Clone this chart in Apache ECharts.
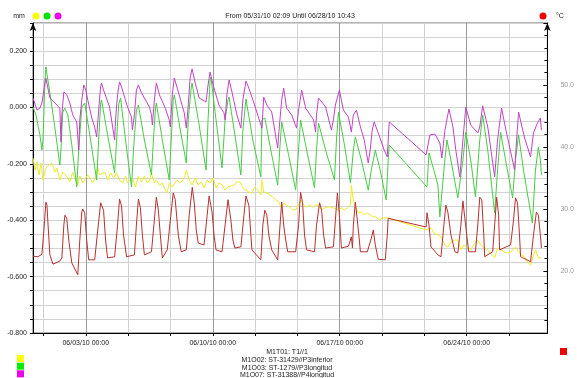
<!DOCTYPE html>
<html><head><meta charset="utf-8">
<script src="https://cdn.jsdelivr.net/npm/echarts@6/dist/echarts.min.js"></script>
<style>html,body{margin:0;padding:0;background:#fff}#c{width:577px;height:378px}</style>
</head><body><div id="c"></div>
<script>
// x values are days counted from 05/31/10 00:00
const xStartDay = 0.0896;   // 05/31/10 02:09
const xEndDay = 28.4465;    // 06/28/10 10:43
const xLabelDays = [3, 10, 17, 24];
const xLabelTexts = ['06/03/10 00:00', '06/10/10 00:00', '06/17/10 00:00', '06/24/10 00:00'];
const xGridDays = [0.667, 3, 5.333, 7.667, 10, 12.333, 14.667, 17, 19.333, 21.667, 24, 26.333];
const seriesNames = ['M1T01: T1//1', 'M1O02: ST-31429//P3inferior', 'M1O03: ST-1279//P3longitud', 'M1O07: ST-31388//P4longitud'];
const titleText = 'From 05/31/10 02:09 Until 06/28/10 10:43';

// M1T01 temperature (°C, right axis)
const redTemp = [[0.09,22.4],[0.36,22.3],[0.58,22.7],[0.69,26.6],[0.80,31.1],[0.86,30.6],[0.91,27.9],[1.02,22.6],[1.19,21.1],[1.57,21.6],[1.68,22.1],[1.79,27.4],[1.85,29.0],[1.95,28.5],[2.06,25.0],[2.23,21.3],[2.56,19.4],[2.67,25.0],[2.78,29.5],[2.83,30.0],[2.94,29.4],[3.05,25.0],[3.16,21.8],[3.49,21.8],[3.66,26.6],[3.82,31.0],[3.87,31.3],[3.98,29.8],[4.09,25.0],[4.20,22.1],[4.59,22.3],[4.75,27.4],[4.86,31.6],[4.97,30.5],[5.08,25.8],[5.25,22.3],[5.68,22.6],[5.79,27.4],[5.90,31.6],[6.01,30.2],[6.12,25.8],[6.23,22.6],[6.62,23.1],[6.78,28.2],[6.89,31.9],[7.00,29.8],[7.11,25.8],[7.22,22.1],[7.49,23.4],[7.66,28.2],[7.82,32.6],[7.93,31.5],[8.10,25.8],[8.26,23.1],[8.54,23.4],[8.70,29.0],[8.87,33.5],[8.98,31.0],[9.09,26.6],[9.20,24.5],[9.52,24.2],[9.69,29.0],[9.80,32.1],[9.96,29.5],[10.07,25.8],[10.18,23.4],[10.51,23.1],[10.68,27.4],[10.84,31.5],[11.00,28.2],[11.11,25.0],[11.22,23.7],[11.55,23.9],[11.72,29.0],[11.83,32.1],[11.99,30.6],[12.10,25.8],[12.16,23.4],[12.65,21.8],[12.76,27.4],[12.87,29.8],[12.98,29.0],[13.09,25.8],[13.25,23.4],[13.58,21.8],[13.69,26.6],[13.80,31.1],[13.91,27.4],[14.02,25.0],[14.13,23.1],[14.57,23.1],[14.73,27.4],[14.84,32.7],[14.95,31.0],[15.06,25.8],[15.17,23.4],[15.61,23.1],[15.72,27.4],[15.89,31.0],[16.00,29.8],[16.11,25.8],[16.22,23.7],[16.65,23.9],[16.76,28.2],[16.87,32.6],[16.98,29.0],[17.09,23.7],[17.48,24.0],[17.64,25.5],[17.70,23.7],[17.75,27.4],[17.86,31.1],[17.97,28.2],[18.08,25.0],[18.14,23.1],[18.52,23.1],[18.74,25.3],[18.85,26.6],[18.96,24.2],[19.12,21.9],[19.51,21.8],[19.62,25.8],[19.67,28.5],[21.76,27.1],[21.81,29.4],[21.92,27.4],[22.03,23.9],[22.41,22.6],[22.58,22.3],[22.74,27.4],[22.85,30.6],[22.96,29.5],[23.13,25.8],[23.35,23.1],[23.51,22.9],[23.68,27.4],[23.79,31.3],[23.89,31.0],[24.00,25.8],[24.11,23.1],[24.48,23.1],[24.61,27.4],[24.72,31.9],[24.83,31.5],[24.94,25.8],[24.99,22.3],[25.43,23.1],[25.54,27.4],[25.65,31.9],[25.76,29.0],[25.81,23.4],[26.03,23.7],[26.42,24.2],[26.58,28.2],[26.69,31.8],[26.80,31.0],[26.91,25.8],[26.97,22.3],[27.52,21.5],[27.68,25.8],[27.84,29.5],[27.95,29.0],[28.06,25.8],[28.12,23.7]];

// M1O02 (mm, left axis)
const yellowMM = [[0.09,-0.179],[0.20,-0.222],[0.31,-0.193],[0.42,-0.239],[0.53,-0.197],[0.64,-0.257],[0.80,-0.214],[0.97,-0.204],[1.13,-0.197],[1.30,-0.229],[1.41,-0.214],[1.57,-0.257],[1.73,-0.229],[1.84,-0.222],[2.01,-0.250],[2.12,-0.264],[2.28,-0.229],[2.39,-0.250],[2.56,-0.275],[2.67,-0.243],[2.83,-0.268],[2.94,-0.264],[3.11,-0.239],[3.22,-0.250],[3.38,-0.268],[3.54,-0.250],[3.65,-0.211],[3.76,-0.239],[3.87,-0.246],[4.04,-0.229],[4.20,-0.257],[4.37,-0.232],[4.53,-0.250],[4.70,-0.232],[4.86,-0.257],[5.03,-0.268],[5.19,-0.243],[5.30,-0.268],[5.41,-0.264],[5.57,-0.250],[5.74,-0.282],[5.90,-0.243],[6.07,-0.264],[6.23,-0.243],[6.40,-0.268],[6.51,-0.257],[6.62,-0.232],[6.78,-0.268],[6.89,-0.257],[7.06,-0.275],[7.22,-0.268],[7.38,-0.293],[7.49,-0.303],[7.60,-0.268],[7.77,-0.282],[7.88,-0.278],[8.04,-0.257],[8.21,-0.268],[8.43,-0.250],[8.54,-0.222],[8.70,-0.257],[8.86,-0.275],[9.03,-0.250],[9.19,-0.275],[9.36,-0.264],[9.52,-0.285],[9.69,-0.257],[9.85,-0.268],[10.02,-0.250],[10.18,-0.285],[10.34,-0.268],[10.51,-0.275],[10.68,-0.293],[10.84,-0.282],[11.00,-0.278],[11.17,-0.275],[11.33,-0.264],[11.50,-0.264],[11.66,-0.285],[11.83,-0.293],[11.99,-0.300],[12.16,-0.303],[12.32,-0.282],[12.49,-0.293],[12.65,-0.310],[12.71,-0.257],[12.81,-0.300],[12.98,-0.303],[13.14,-0.310],[13.31,-0.317],[13.47,-0.328],[13.64,-0.335],[13.75,-0.353],[13.91,-0.339],[14.07,-0.346],[14.24,-0.353],[14.40,-0.363],[14.57,-0.363],[14.73,-0.346],[14.84,-0.328],[15.01,-0.346],[15.17,-0.353],[15.34,-0.346],[15.50,-0.353],[15.67,-0.346],[15.83,-0.346],[16.00,-0.363],[16.16,-0.356],[16.32,-0.353],[16.49,-0.353],[16.65,-0.356],[16.76,-0.353],[16.93,-0.363],[17.09,-0.356],[17.26,-0.363],[17.42,-0.356],[17.59,-0.346],[17.64,-0.275],[17.75,-0.328],[17.92,-0.363],[18.03,-0.374],[18.19,-0.371],[18.35,-0.381],[18.52,-0.374],[18.68,-0.381],[18.85,-0.388],[19.01,-0.388],[19.18,-0.399],[19.34,-0.392],[19.51,-0.392],[19.67,-0.392],[21.76,-0.434],[21.86,-0.434],[22.03,-0.427],[22.19,-0.445],[22.41,-0.452],[22.58,-0.459],[22.69,-0.463],[22.80,-0.488],[22.96,-0.495],[23.13,-0.477],[23.35,-0.470],[23.51,-0.470],[23.68,-0.505],[23.84,-0.488],[24.06,-0.498],[24.22,-0.505],[24.44,-0.481],[24.61,-0.470],[24.77,-0.488],[24.99,-0.498],[25.16,-0.505],[25.38,-0.523],[25.54,-0.534],[25.70,-0.498],[25.87,-0.505],[26.09,-0.513],[26.25,-0.516],[26.42,-0.513],[26.69,-0.495],[26.86,-0.513],[27.02,-0.523],[27.19,-0.530],[27.35,-0.548],[27.52,-0.559],[27.68,-0.523],[27.79,-0.505],[27.95,-0.534],[28.12,-0.534]];

// M1O03 (mm, left axis)
const greenMM = [[0.09,0.002],[0.25,-0.026],[0.47,-0.097],[0.58,-0.151],[0.64,-0.115],[0.75,0.098],[0.80,0.144],[0.91,0.098],[1.02,0.052],[1.30,-0.073],[1.57,-0.204],[1.63,-0.151],[1.73,-0.016],[1.84,-0.002],[2.01,-0.026],[2.23,-0.133],[2.50,-0.282],[2.61,-0.151],[2.78,0.002],[2.94,0.016],[3.22,-0.097],[3.60,-0.257],[3.71,-0.115],[3.82,0.016],[3.87,0.027],[4.20,-0.097],[4.59,-0.232],[4.70,-0.115],[4.81,0.009],[4.92,0.034],[5.19,-0.115],[5.52,-0.282],[5.63,-0.151],[5.79,-0.009],[5.90,0.009],[6.23,-0.115],[6.62,-0.239],[6.73,-0.115],[6.84,-0.002],[6.89,0.016],[7.22,-0.115],[7.60,-0.257],[7.71,-0.115],[7.82,0.027],[7.88,0.045],[8.21,-0.080],[8.54,-0.197],[8.65,-0.044],[8.81,0.069],[8.86,0.087],[9.25,-0.062],[9.63,-0.222],[9.74,-0.044],[9.85,0.098],[9.90,0.108],[10.18,-0.044],[10.51,-0.214],[10.68,-0.044],[10.84,0.027],[10.90,0.037],[11.22,-0.097],[11.55,-0.239],[11.66,-0.080],[11.83,0.030],[12.21,-0.115],[12.65,-0.246],[12.71,-0.044],[12.87,-0.037],[13.20,-0.151],[13.58,-0.275],[13.69,-0.151],[13.80,-0.051],[14.18,-0.168],[14.57,-0.293],[14.73,-0.151],[14.84,-0.044],[15.23,-0.168],[15.61,-0.285],[15.72,-0.151],[15.83,-0.055],[16.22,-0.151],[16.71,-0.257],[16.82,-0.115],[16.93,-0.016],[17.26,-0.133],[17.59,-0.268],[17.75,-0.151],[17.86,-0.104],[18.19,-0.186],[18.57,-0.293],[18.74,-0.222],[18.96,-0.151],[19.23,-0.222],[19.56,-0.328],[19.67,-0.186],[19.73,-0.133],[21.81,-0.282],[21.92,-0.161],[22.19,-0.222],[22.41,-0.275],[22.52,-0.388],[22.74,-0.222],[22.91,-0.115],[23.18,-0.204],[23.51,-0.321],[23.79,-0.186],[23.95,-0.087],[24.22,-0.186],[24.48,-0.317],[24.72,-0.115],[24.88,-0.026],[25.16,-0.151],[25.54,-0.374],[25.70,-0.222],[25.87,-0.087],[26.14,-0.186],[26.53,-0.321],[26.69,-0.186],[26.86,-0.097],[27.13,-0.222],[27.62,-0.410],[27.79,-0.222],[27.95,-0.140],[28.06,-0.186],[28.12,-0.239]];

// M1O07 (mm, left axis)
const magentaMM = [[0.09,0.034],[0.31,-0.009],[0.47,-0.002],[0.58,0.016],[0.69,0.062],[0.80,0.105],[0.86,0.098],[1.02,0.034],[1.30,0.016],[1.57,-0.002],[1.63,-0.122],[1.68,-0.026],[1.79,0.055],[1.84,0.062],[1.95,0.045],[2.12,0.016],[2.28,-0.026],[2.50,-0.051],[2.56,-0.051],[2.61,-0.151],[2.67,-0.044],[2.78,0.027],[2.89,0.080],[3.00,0.062],[3.11,0.027],[3.33,-0.037],[3.49,-0.069],[3.60,-0.104],[3.71,-0.009],[3.82,0.076],[3.87,0.087],[3.98,0.062],[4.31,0.002],[4.59,-0.115],[4.64,-0.044],[4.75,0.045],[4.86,0.091],[4.97,0.073],[5.30,0.002],[5.52,-0.034],[5.57,-0.080],[5.68,-0.026],[5.79,0.062],[5.90,0.080],[6.07,0.052],[6.51,0.002],[6.62,-0.026],[6.67,-0.062],[6.78,0.027],[6.89,0.087],[7.06,0.045],[7.38,-0.002],[7.60,-0.044],[7.66,-0.069],[7.77,0.045],[7.88,0.105],[8.04,0.069],[8.43,-0.019],[8.54,-0.073],[8.65,0.009],[8.75,0.105],[8.86,0.137],[9.03,0.087],[9.25,0.034],[9.63,0.020],[9.74,0.080],[9.85,0.126],[10.02,0.080],[10.34,0.009],[10.62,-0.019],[10.68,-0.044],[10.78,0.045],[10.90,0.098],[11.06,0.055],[11.33,-0.026],[11.55,-0.073],[11.66,0.027],[11.83,0.094],[11.99,0.069],[12.27,0.016],[12.71,-0.073],[12.81,0.037],[12.87,0.041],[12.98,0.009],[13.25,-0.016],[13.58,-0.144],[13.64,-0.090],[13.80,0.027],[13.91,0.069],[14.07,-0.002],[14.35,-0.026],[14.62,-0.073],[14.73,-0.009],[14.90,0.062],[15.12,-0.002],[15.56,-0.044],[15.67,-0.087],[15.72,-0.026],[15.83,0.034],[15.94,0.027],[16.22,0.002],[16.54,-0.080],[16.65,-0.044],[16.76,0.009],[16.98,0.062],[17.20,-0.009],[17.48,-0.034],[17.64,-0.087],[17.75,-0.026],[17.92,-0.009],[18.14,-0.069],[18.35,-0.115],[18.57,-0.197],[18.68,-0.151],[18.79,-0.080],[18.90,-0.051],[19.12,-0.090],[19.45,-0.151],[19.62,-0.175],[19.73,-0.051],[21.76,-0.168],[21.97,-0.097],[22.25,-0.094],[22.52,-0.126],[22.63,-0.179],[22.80,-0.080],[23.02,-0.005],[23.24,-0.069],[23.40,-0.151],[23.62,-0.246],[23.79,-0.115],[23.95,0.002],[24.22,-0.062],[24.61,-0.090],[24.72,-0.069],[24.88,0.006],[25.16,-0.069],[25.54,-0.246],[25.70,-0.115],[25.92,-0.002],[26.14,-0.073],[26.64,-0.222],[26.75,-0.115],[26.86,-0.016],[27.19,-0.108],[27.52,-0.175],[27.68,-0.090],[27.90,-0.055],[28.06,-0.037],[28.12,-0.080]];

const FONT = '"Liberation Sans", Arial, sans-serif';
const chart = echarts.init(document.getElementById('c'), null, {renderer: 'canvas'});

function lineSeries(name, data, color, axis) {
  return {
    name: name, type: 'line', data: data, yAxisIndex: axis,
    showSymbol: false, symbol: 'none', smooth: false,
    lineStyle: {color: color, width: 1}, itemStyle: {color: color},
    emphasis: {disabled: true}, animation: false
  };
}

const textStyle = (t, x, y, size, color, align) => ({
  type: 'text', x: x, y: y, silent: true,
  style: {text: t, fontSize: size, fontFamily: FONT, fill: color,
          align: align, verticalAlign: 'middle', textAlign: align, textVerticalAlign: 'middle'}
});

const option = {
  animation: false,
  backgroundColor: '#ffffff',
  textStyle: {fontFamily: FONT},
  grid: {left: 33, right: 27, top: 23, bottom: 45, show: true, borderColor: '#666', borderWidth: 1, backgroundColor: 'transparent'},
  xAxis: {
    type: 'value', min: xStartDay, max: xEndDay,
    axisLine: {show: true, onZero: false, lineStyle: {color: '#000', width: 1}},
    axisTick: {show: true, customValues: xGridDays, length: 3, lineStyle: {color: '#000'}},
    axisLabel: {
      customValues: xLabelDays, fontSize: 7, color: '#222', margin: 7, fontFamily: FONT,
      formatter: function (v) { const i = xLabelDays.indexOf(Math.round(v)); return i >= 0 ? xLabelTexts[i] : ''; }
    },
    splitLine: {show: true, lineStyle: {color: ['#d2d2d2', '#9a9a9a', '#d2d2d2'], width: 1}}
  },
  yAxis: [
    {
      type: 'value', min: -0.8, max: 0.3, interval: 0.05, position: 'left',
      axisLine: {show: true, onZero: false, symbol: ['none', 'arrow'], symbolSize: [5, 8], lineStyle: {color: '#000', width: 1}},
      axisTick: {show: true, length: 3, lineStyle: {color: '#000'}},
      axisLabel: {
        fontSize: 7, color: '#222', margin: 6, fontFamily: FONT,
        formatter: function (v) { const r = Math.round(v * 100); return (r % 20 === 0 && r <= 20) ? (r / 100).toFixed(3) : ''; }
      },
      splitLine: {show: true, lineStyle: {color: '#d2d2d2', width: 1}}
    },
    {
      type: 'value', min: 10, max: 60, interval: 10, position: 'right',
      axisLine: {show: true, onZero: false, symbol: ['none', 'arrow'], symbolSize: [5, 8], lineStyle: {color: '#000', width: 1}},
      axisTick: {show: true, inside: true, length: 4, lineStyle: {color: '#000'}},
      minorTick: {show: true, splitNumber: 5, length: 3, lineStyle: {color: '#000'}},
      axisLabel: {
        fontSize: 7, color: '#999', margin: 13, fontFamily: FONT,
        formatter: function (v) { return (v >= 20 && v <= 50) ? v.toFixed(1) : ''; }
      },
      splitLine: {show: false}
    }
  ],
  series: [
    lineSeries(seriesNames[1], yellowMM, '#eded2a', 0),
    lineSeries(seriesNames[2], greenMM, '#46cc46', 0),
    lineSeries(seriesNames[3], magentaMM, '#c044c4', 0),
    lineSeries(seriesNames[0], redTemp, '#b83030', 1)
  ],
  graphic: [
    textStyle('mm', 19, 16, 7, '#222', 'center'),
    {type: 'circle', silent: true, shape: {cx: 36, cy: 16, r: 3.5}, style: {fill: '#ffff00'}},
    {type: 'circle', silent: true, shape: {cx: 47, cy: 16, r: 3.5}, style: {fill: '#00e000'}},
    {type: 'circle', silent: true, shape: {cx: 58, cy: 16, r: 3.5}, style: {fill: '#ee00ee'}},
    textStyle(titleText, 290, 16, 7, '#222', 'center'),
    {type: 'circle', silent: true, shape: {cx: 543, cy: 16, r: 3.5}, style: {fill: '#ee0000'}},
    textStyle('°C', 560, 16, 7, '#222', 'center'),
    textStyle(seriesNames[0], 287, 352, 7, '#222', 'center'),
    textStyle(seriesNames[1], 287, 360, 7, '#222', 'center'),
    textStyle(seriesNames[2], 287, 367.7, 7, '#222', 'center'),
    textStyle(seriesNames[3], 287, 375.3, 7, '#222', 'center'),
    {type: 'rect', silent: true, shape: {x: 17, y: 355, width: 7, height: 7}, style: {fill: '#ffff00'}},
    {type: 'rect', silent: true, shape: {x: 17, y: 362.7, width: 7, height: 7}, style: {fill: '#00ee00'}},
    {type: 'rect', silent: true, shape: {x: 17, y: 370.3, width: 7, height: 7}, style: {fill: '#ee00ee'}},
    {type: 'rect', silent: true, shape: {x: 560, y: 348, width: 7, height: 7}, style: {fill: '#ee0000'}}
  ]
};
chart.setOption(option);
</script>
</body></html>
